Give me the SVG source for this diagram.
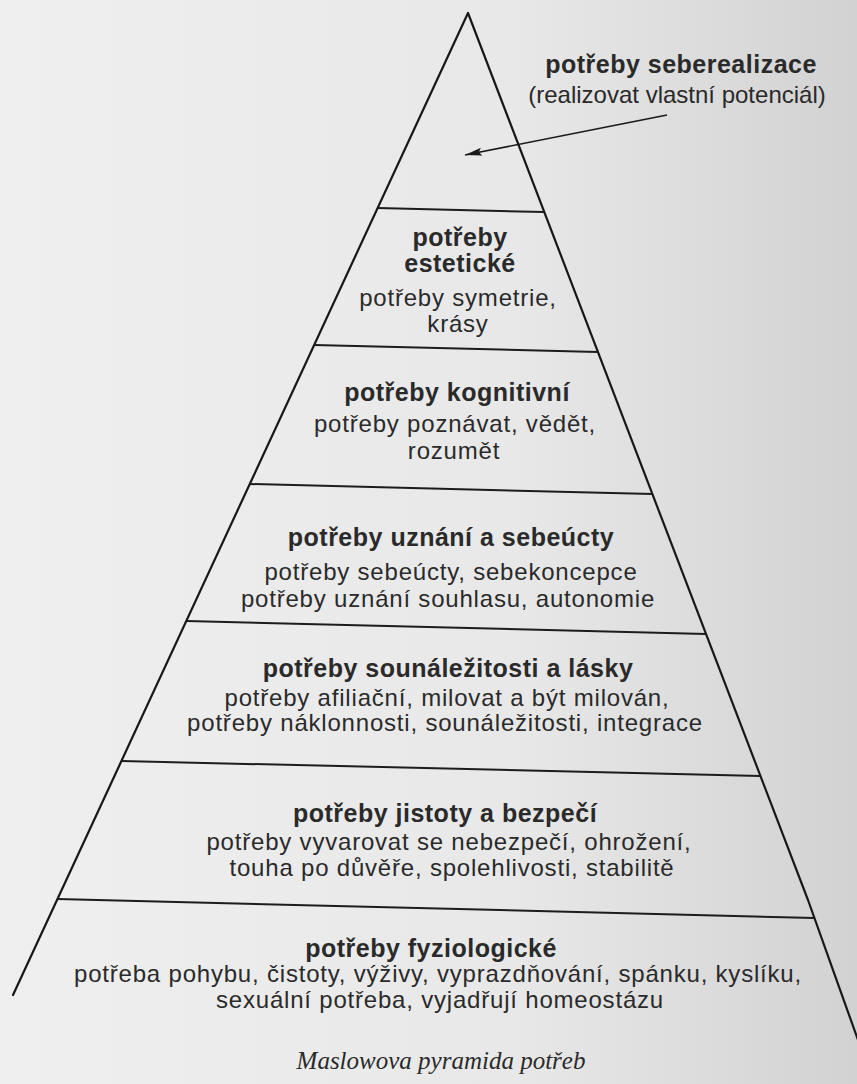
<svg xmlns="http://www.w3.org/2000/svg" width="857" height="1084" viewBox="0 0 857 1084">
  <defs>
    <linearGradient id="paper" x1="0" y1="0" x2="1" y2="0">
      <stop offset="0" stop-color="#efefef"/>
      <stop offset="0.6" stop-color="#e8e8e8"/>
      <stop offset="1" stop-color="#d2d2d2"/>
    </linearGradient>
    <marker id="arrowhead" markerUnits="userSpaceOnUse" markerWidth="18" markerHeight="10" refX="17" refY="5" orient="auto">
      <path d="M0,1 L17,5 L0,9 L3,5 Z" fill="#1a1a1a"/>
    </marker>
    <style>
      .edge { fill: none; stroke: #181818; stroke-width: 2.2; stroke-linecap: round; stroke-linejoin: round; }
      .sep { fill: none; stroke: #1c1c1c; stroke-width: 2; }
      .b { font-family: "Liberation Sans", Arial, sans-serif; font-weight: bold; font-size: 25px; letter-spacing: 0.5px; fill: #2a2a2a; text-anchor: middle; }
      .r { font-family: "Liberation Sans", Arial, sans-serif; font-size: 24px; letter-spacing: 0.8px; fill: #2a2a2a; text-anchor: middle; }
      .rt { font-family: "Liberation Sans", Arial, sans-serif; font-size: 24px; fill: #2a2a2a; text-anchor: middle; }
      .cap { font-family: "Liberation Serif", "Times New Roman", serif; font-style: italic; font-size: 25px; fill: #2a2a2a; text-anchor: middle; }
      .arrow { fill: none; stroke: #1a1a1a; stroke-width: 1.6; }
    </style>
  </defs>

  <rect x="0" y="0" width="857" height="1084" fill="url(#paper)"/>

  <g id="pyramid">
    <polyline class="edge" points="13,995 468,13 808,900 858,1040"/>
    <line class="sep" x1="377.6" y1="208" x2="544.3" y2="212"/>
    <line class="sep" x1="314.1" y1="345" x2="597.9" y2="352"/>
    <line class="sep" x1="249.7" y1="484" x2="652.7" y2="494"/>
    <line class="sep" x1="186.3" y1="621" x2="706" y2="634"/>
    <line class="sep" x1="121.4" y1="761" x2="760.5" y2="776"/>
    <line class="sep" x1="57.4" y1="899" x2="814.4" y2="918"/>
  </g>

  <g id="seberealizace">
    <text class="b" x="681" y="73">potřeby seberealizace</text>
    <text class="rt" x="677" y="103">(realizovat vlastní potenciál)</text>
  </g>

  <g id="connectors">
    <line class="arrow" x1="667" y1="115" x2="465" y2="155" marker-end="url(#arrowhead)"/>
  </g>

  <g id="esteticke">
    <text class="b" x="460" y="246">potřeby</text>
    <text class="b" x="460" y="272">estetické</text>
    <text class="r" x="458" y="306">potřeby symetrie,</text>
    <text class="r" x="458" y="332">krásy</text>
  </g>

  <g id="kognitivni">
    <text class="b" x="457" y="401">potřeby kognitivní</text>
    <text class="r" x="455" y="432">potřeby poznávat, vědět,</text>
    <text class="r" x="454" y="459">rozumět</text>
  </g>

  <g id="uznani">
    <text class="b" x="451" y="546">potřeby uznání a sebeúcty</text>
    <text class="r" x="451" y="580">potřeby sebeúcty, sebekoncepce</text>
    <text class="r" x="448" y="607">potřeby uznání souhlasu, autonomie</text>
  </g>

  <g id="sounalezitost">
    <text class="b" x="448" y="677">potřeby sounáležitosti a lásky</text>
    <text class="r" x="447" y="706">potřeby afiliační, milovat a být milován,</text>
    <text class="r" x="445" y="731">potřeby náklonnosti, sounáležitosti, integrace</text>
  </g>

  <g id="jistota">
    <text class="b" x="445" y="822">potřeby jistoty a bezpečí</text>
    <text class="r" x="449" y="850">potřeby vyvarovat se nebezpečí, ohrožení,</text>
    <text class="r" x="452" y="876">touha po důvěře, spolehlivosti, stabilitě</text>
  </g>

  <g id="fyziologicke">
    <text class="b" x="431" y="957">potřeby fyziologické</text>
    <text class="r" x="438" y="982">potřeba pohybu, čistoty, výživy, vyprazdňování, spánku, kyslíku,</text>
    <text class="r" x="440" y="1008">sexuální potřeba, vyjadřují homeostázu</text>
  </g>

  <g id="caption">
    <text class="cap" x="441" y="1069">Maslowova pyramida potřeb</text>
  </g>
</svg>
